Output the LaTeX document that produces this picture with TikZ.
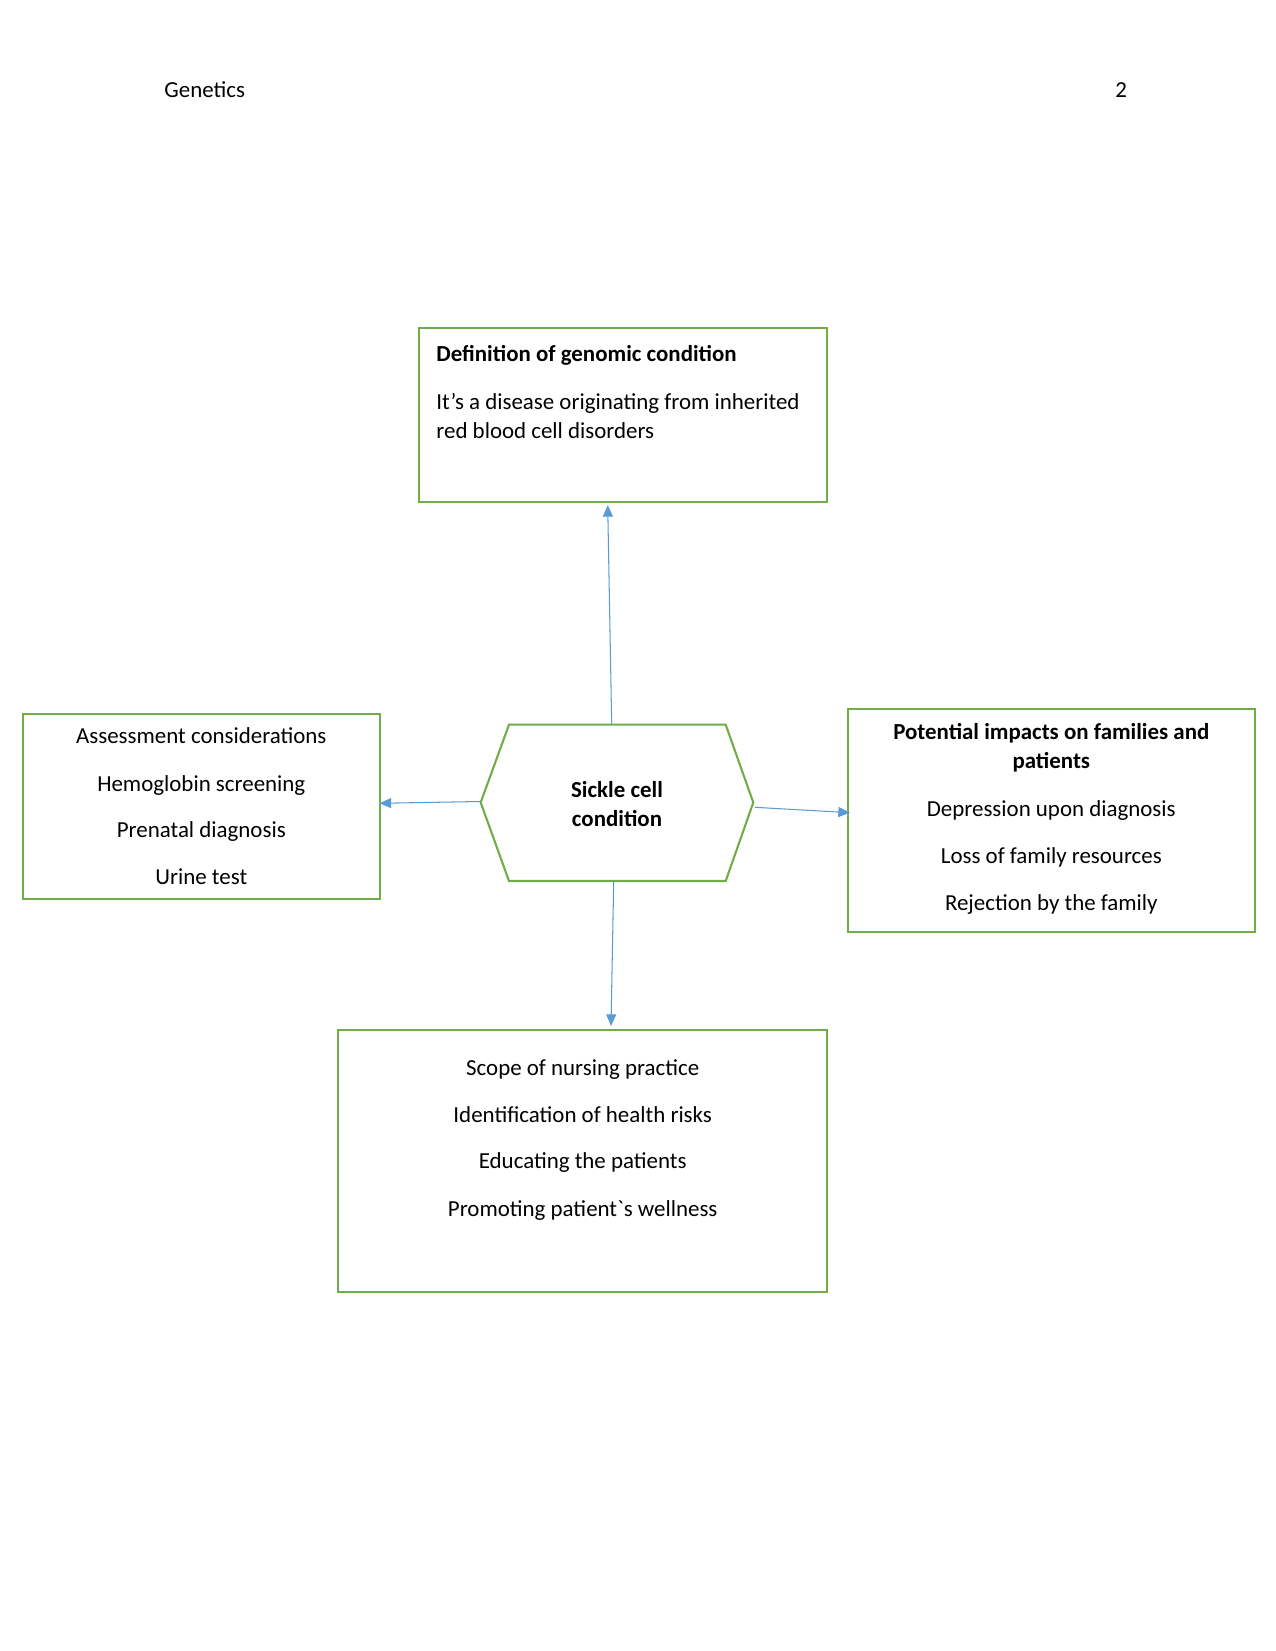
\documentclass[tikz,border=0pt]{standalone}
\usepackage{fontspec}
\setmainfont{Carlito}[Ligatures=TeXOff]
\usetikzlibrary{arrows.meta}
\definecolor{boxgreen}{HTML}{70AD47}
\definecolor{arrowblue}{HTML}{5B9BD5}
\begin{document}
\begin{tikzpicture}[x=0.48pt,y=-0.48pt,
  box/.style={draw=boxgreen,line width=1pt,rectangle,inner sep=0pt,outer sep=0pt},
  txt/.style={font=\fontsize{11pt}{13.4pt}\selectfont,inner sep=0pt,anchor=base},
  btxt/.style={txt,font=\fontsize{11pt}{13.4pt}\selectfont\bfseries},
  conn/.style={draw=arrowblue,line width=0.5pt,-{Triangle[length=5.6pt,width=4.8pt]}}]
\useasboundingbox[fill=white] (0,0) rectangle (1275,1651);

% header
\node[txt,anchor=base west] (hdr) at (164,97.5) {Genetics};
\node[txt,anchor=base west] (pg) at (1115,97.5) {2};

% boxes
\node[box,minimum width=408*0.48pt,minimum height=174*0.48pt] (def) at (623.3,414.7) {};
\node[box,minimum width=357.3*0.48pt,minimum height=184.7*0.48pt] (assess) at (201.35,806.35) {};
\node[box,minimum width=407.3*0.48pt,minimum height=223*0.48pt] (impact) at (1051.65,820.8) {};
\node[box,minimum width=488.7*0.48pt,minimum height=261.7*0.48pt] (scope) at (582.65,1160.85) {};

% hexagon
\coordinate (hL) at (480.7,802.5);
\coordinate (hTL) at (509,724.7);
\coordinate (hTR) at (725.7,724.7);
\coordinate (hR) at (753.3,802.5);
\coordinate (hBR) at (725.7,881);
\coordinate (hBL) at (509,881);
\draw[draw=boxgreen,line width=1pt,line join=miter] (hL) -- (hTL) -- (hTR) -- (hR) -- (hBR) -- (hBL) -- cycle;

% text: definition
\node[btxt,anchor=base west] (defT) at (436,361.7) {Definition of genomic condition};
\node[txt,anchor=base west] (defL1) at (436,409.3) {It’s a disease originating from inherited};
\node[txt,anchor=base west] (defL2) at (436,438.7) {red blood cell disorders};

% text: assessment
\node[txt] (asT) at (201.3,743.7) {Assessment considerations};
\node[txt] (as1) at (201.3,791) {Hemoglobin screening};
\node[txt] (as2) at (201.3,837.7) {Prenatal diagnosis};
\node[txt] (as3) at (201.3,884.3) {Urine test};

% text: hexagon
\node[btxt] (hx1) at (617,797) {Sickle cell};
\node[btxt] (hx2) at (617,826.7) {condition};

% text: impacts
\node[btxt] (imT1) at (1051.3,739.3) {Potential impacts on families and};
\node[btxt] (imT2) at (1051.3,768) {patients};
\node[txt] (im1) at (1051.3,816) {Depression upon diagnosis};
\node[txt] (im2) at (1051.3,863.3) {Loss of family resources};
\node[txt] (im3) at (1051.3,910) {Rejection by the family};

% text: scope
\node[txt] (sc1) at (582.7,1075) {Scope of nursing practice};
\node[txt] (sc2) at (582.7,1122) {Identification of health risks};
\node[txt] (sc3) at (582.7,1168.7) {Educating the patients};
\node[txt] (sc4) at (582.7,1216) {Promoting patient\symbol{96}s wellness};

% connector end points
\coordinate (hTop) at (611.7,724.7);
\coordinate (hBot) at (613.7,881);
\coordinate (hLeft) at (480.7,801.5);
\coordinate (hRight) at (755,807.3);
\coordinate (defIn) at (607.7,505);
\coordinate (scIn) at (611,1026);
\coordinate (asIn) at (379.5,803.3);
\coordinate (imIn) at (850,812.7);

\draw[conn] (hTop) -- (defIn);
\draw[conn] (hBot) -- (scIn);
\draw[conn] (hLeft) -- (asIn);
\draw[conn] (hRight) -- (imIn);
\end{tikzpicture}
\end{document}
